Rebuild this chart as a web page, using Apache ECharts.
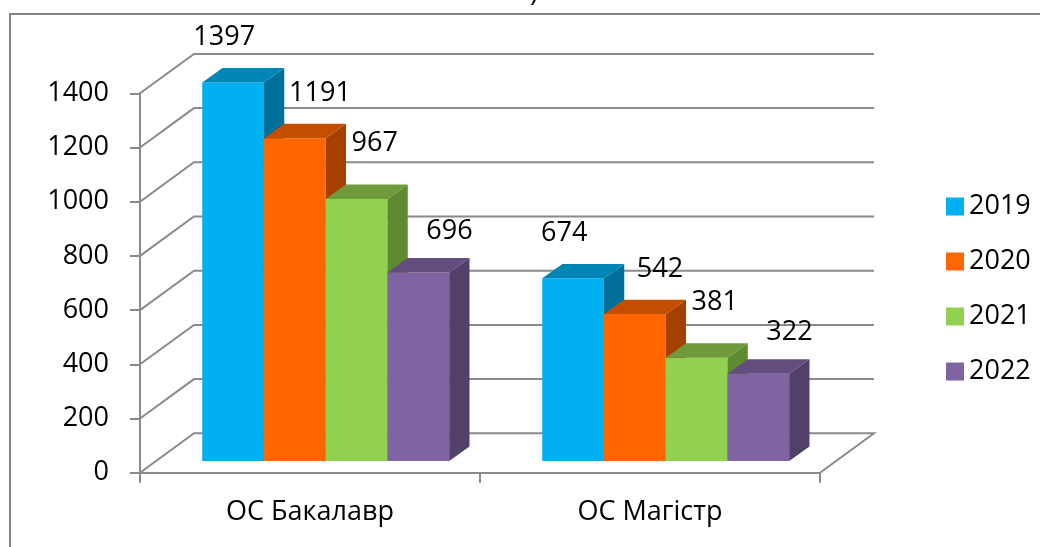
<!DOCTYPE html>
<html>
<head>
<meta charset="utf-8">
<script src="https://cdn.jsdelivr.net/npm/echarts@6/dist/echarts.min.js"></script>
<style>
  html, body { margin: 0; padding: 0; background: #fff; }
  #chart { width: 1040px; height: 547px; }
</style>
</head>
<body>
<div id="chart"></div>
<script>
// data
const categories = ['ОС Бакалавр', 'ОС Магістр'];
const years = ['2019', '2020', '2021', '2022'];
const v2019 = [1397, 674];
const v2020 = [1191, 542];
const v2021 = [967, 381];
const v2022 = [696, 322];
const yTicks = [0, 200, 400, 600, 800, 1000, 1200, 1400];

const seriesValues = [v2019, v2020, v2021, v2022];

// colours: front / top / side
const faceColors = [
  ['#00b0f0', '#0086b6', '#00709a'],
  ['#ff6600', '#c44e00', '#a44100'],
  ['#92d050', '#6e9a3c', '#5e8a32'],
  ['#8064a2', '#634d7f', '#52406a']
];

const FONT = '"Open Sans", sans-serif';
const gridColor = '#8a8a8a';
// 3d look: back wall offset, bar front shift and bar depth (pixels)
const wallDx = 54, wallDy = -39.4;
const shiftX = 15.7, shiftY = -11.7;
const barDx = 20.3, barDy = -14.4;
// per-series label nudges from the top face centre
const labelDx = [-19, 15, 8, 21];
const labelDy = [-38, -38, -48, -34];

const chart = echarts.init(document.getElementById('chart'));

function renderWall(params, api) {
  const v = api.value(1);
  const band = api.size([1, 0])[0];
  const p0 = api.coord([0, v]);
  const p1 = api.coord([categories.length - 1, v]);
  const left = p0[0] - band / 2;
  const right = p1[0] + band / 2;
  const y = p0[1];
  const pts = [[left, y], [left + wallDx, y + wallDy], [right + wallDx, y + wallDy]];
  if (v === 0) pts.push([right, y]);
  return {
    type: 'polyline',
    shape: { points: pts },
    style: { stroke: gridColor, lineWidth: 2, fill: null }
  };
}

function makeBarRenderer(si) {
  return function (params, api) {
    const cat = api.value(0), val = api.value(1);
    const base = api.coord([cat, 0]);
    const top = api.coord([cat, val]);
    const band = api.size([1, 0])[0];
    const w = band * 0.1816;
    const x0 = base[0] - 2 * w + si * w + shiftX;
    const x1 = x0 + w;
    const yb = base[1] + shiftY;
    const yt = top[1] + shiftY;
    const c = faceColors[si];
    return {
      type: 'group',
      children: [
        { type: 'rect', shape: { x: x0, y: yt, width: w, height: yb - yt }, style: { fill: c[0] } },
        { type: 'polygon', shape: { points: [[x1, yt], [x1 + barDx, yt + barDy], [x1 + barDx, yb + barDy], [x1, yb]] }, style: { fill: c[2] } },
        { type: 'polygon', shape: { points: [[x0, yt], [x0 + barDx, yt + barDy], [x1 + barDx, yt + barDy], [x1, yt]] }, style: { fill: c[1] } },
        {
          type: 'text',
          style: {
            text: String(val),
            x: (x0 + x1) / 2 + barDx / 2 + labelDx[si],
            y: yt + barDy / 2 + labelDy[si],
            align: 'center', verticalAlign: 'middle',
            fontSize: 27, fontFamily: FONT, fill: '#000'
          }
        }
      ]
    };
  };
}

const series = [{
  type: 'custom',
  name: 'wall',
  renderItem: renderWall,
  clip: false,
  silent: true,
  z: 1,
  data: yTicks.map(v => [0, v])
}];

years.forEach((y, i) => {
  series.push({
    type: 'custom',
    name: y,
    renderItem: makeBarRenderer(i),
    clip: false,
    z: 2,
    itemStyle: { color: faceColors[i][0] },
    data: seriesValues[i].map((v, k) => [k, v])
  });
});

const option = {
  animation: false,
  textStyle: { fontFamily: FONT },
  grid: { left: 140, right: 220, top: 93.3, bottom: 74.3 },
  legend: {
    data: years,
    orient: 'vertical',
    left: 941,
    top: 188,
    icon: 'rect',
    itemWidth: 18,
    itemHeight: 18,
    itemGap: 28,
    textStyle: { fontSize: 27, lineHeight: 27, color: '#000', fontFamily: FONT }
  },
  xAxis: {
    type: 'category',
    data: categories,
    axisLine: { lineStyle: { color: gridColor, width: 2 } },
    axisTick: { show: true, length: 10, lineStyle: { color: gridColor, width: 2 } },
    axisLabel: { fontSize: 27, color: '#000', margin: 26, fontFamily: FONT },
    splitLine: { show: false }
  },
  yAxis: {
    type: 'value',
    min: 0,
    max: 1400,
    interval: 200,
    axisLine: { show: true, lineStyle: { color: gridColor, width: 2 } },
    axisTick: { show: true, length: 10, lineStyle: { color: gridColor, width: 2 } },
    axisLabel: { fontSize: 27, color: '#000', margin: 31, fontFamily: FONT, formatter: v => String(v) },
    splitLine: { show: false }
  },
  graphic: [
    {
      type: 'rect',
      shape: { x: 10, y: 14, width: 1100, height: 700 },
      style: { fill: null, stroke: '#858585', lineWidth: 2 },
      silent: true
    },
    {
      type: 'text',
      x: 530, y: 7,
      style: { text: ')', fontSize: 27, fontFamily: FONT, fill: '#000', verticalAlign: 'bottom' },
      silent: true
    }
  ],
  series: series
};

chart.setOption(option);
</script>
</body>
</html>
